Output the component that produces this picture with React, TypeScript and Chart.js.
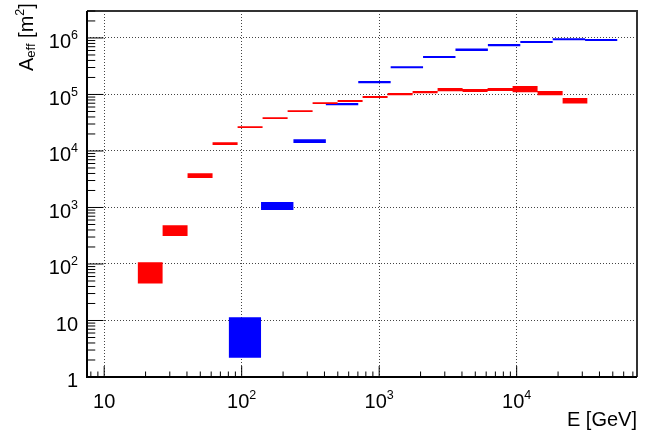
import React, { useEffect, useRef } from 'react';
import { Chart, registerables } from 'chart.js';

Chart.register(...registerables);

// ---- data ----
const RED_EDGES = [17.5, 26.6, 40.4, 61.4, 93.4, 141.9, 215.8, 327.9, 498.3, 757.5, 1151, 1750, 2660, 4043, 6144, 9338, 14190, 21580, 32790];
const RED_VALUES = [76, 398, 3680, 13500, 26400, 38100, 50800, 70300, 76800, 90300, 101600, 110000, 122000, 118000, 122800, 125000, 106000, 78000];
const RED_ERRORS = [31, 86, 350, 750, 900, 1300, 1700, 2400, 3200, 3700, 4800, 5200, 8000, 7000, 7500, 16000, 9300, 8500];

const BLUE_EDGES = [80.4, 138.3, 237.9, 409.4, 704.4, 1212, 2085, 3588, 6174, 10625, 18280, 31450, 54120];
const BLUE_VALUES = [6.8, 1076, 15000, 67600, 165600, 303000, 461000, 618000, 748000, 850000, 950000, 922000];
const BLUE_ERRORS = [4.6, 173, 1100, 3200, 7800, 12000, 18000, 30000, 35000, 35000, 38000, 38000];

const X_MIN = 7.5;
const X_MAX = 75000;
const Y_MIN = 1;
const Y_MAX = 3e6;

const X_TICK_VALUES = [10, 100, 1000, 10000];
const X_TICK_LABELS = ['10', '10^2', '10^3', '10^4'];
const Y_TICK_VALUES = [1, 10, 100, 1000, 10000, 100000, 1000000];
const Y_TICK_LABELS = ['1', '10', '10^2', '10^3', '10^4', '10^5', '10^6'];

const X_TITLE = 'E [GeV]';
const Y_TITLE = ['A', 'eff', ' [m', '2', ']'];

const FONT = '"Liberation Sans", Arial, Helvetica, sans-serif';

function band(edges: number[], values: number[], errors: number[], sign: number) {
  const pts = values.map((v, i) => ({ x: edges[i], y: v + sign * errors[i] }));
  const last = values.length - 1;
  pts.push({ x: edges[last + 1], y: values[last] + sign * errors[last] });
  return pts;
}

function logTicks(min: number, max: number) {
  const ticks: { value: number; major: boolean }[] = [];
  const e0 = Math.floor(Math.log10(min));
  const e1 = Math.ceil(Math.log10(max));
  for (let e = e0; e <= e1; e++) {
    for (let m = 1; m <= 9; m++) {
      const v = m * Math.pow(10, e);
      if (v >= min * 0.9999 && v <= max * 1.0001) ticks.push({ value: v, major: m === 1 });
    }
  }
  return ticks;
}

function drawLabel(ctx: CanvasRenderingContext2D, text: string, x: number, y: number, align: 'center' | 'right') {
  const [base, exp] = text.split('^');
  ctx.font = `20px ${FONT}`;
  const wb = ctx.measureText(base).width;
  let we = 0;
  if (exp) {
    ctx.font = `12.5px ${FONT}`;
    we = ctx.measureText(exp).width;
  }
  const total = wb + we;
  const x0 = align === 'center' ? x - total / 2 : x - total;
  ctx.textAlign = 'left';
  ctx.textBaseline = 'alphabetic';
  ctx.font = `20px ${FONT}`;
  ctx.fillText(base, x0, y);
  if (exp) {
    ctx.font = `12.5px ${FONT}`;
    ctx.fillText(exp, x0 + wb, y - 9);
  }
}

const rootAxesPlugin = {
  id: 'rootAxes',
  afterDraw(chart: any) {
    const { ctx, chartArea } = chart;
    const { left, right, top, bottom } = chartArea;
    const xs = chart.scales.x;
    const ys = chart.scales.y;
    ctx.save();
    // frame
    ctx.strokeStyle = '#333';
    ctx.lineWidth = 2;
    ctx.beginPath();
    ctx.moveTo(left, top);
    ctx.lineTo(right, top);
    ctx.lineTo(right, bottom);
    ctx.stroke();
    ctx.strokeStyle = '#000';
    ctx.beginPath();
    ctx.moveTo(left, top);
    ctx.lineTo(left, bottom);
    ctx.lineTo(right, bottom);
    ctx.stroke();
    // ticks
    ctx.lineWidth = 1;
    ctx.strokeStyle = '#000';
    const xTickLen = (bottom - top) * 0.03;
    const yTickLen = (right - left) * 0.03;
    ctx.beginPath();
    for (const t of xs.ticks) {
      const px = xs.getPixelForValue(t.value);
      const len = t.major ? xTickLen : xTickLen / 2;
      ctx.moveTo(px, bottom);
      ctx.lineTo(px, bottom - len);
    }
    for (const t of ys.ticks) {
      const py = ys.getPixelForValue(t.value);
      const len = t.major ? yTickLen : yTickLen / 2;
      ctx.moveTo(left, py);
      ctx.lineTo(left + len, py);
    }
    ctx.stroke();
    // labels
    ctx.fillStyle = '#000';
    X_TICK_VALUES.forEach((v, i) => {
      drawLabel(ctx, X_TICK_LABELS[i], xs.getPixelForValue(v), bottom + 30.5, 'center');
    });
    Y_TICK_VALUES.forEach((v, i) => {
      drawLabel(ctx, Y_TICK_LABELS[i], left - 9, ys.getPixelForValue(v) + 10.3, 'right');
    });
    // x title
    ctx.font = `20px ${FONT}`;
    ctx.textAlign = 'right';
    ctx.textBaseline = 'alphabetic';
    ctx.fillText(X_TITLE, right, bottom + 49);
    // y title (rotated)
    ctx.translate(33, 71);
    ctx.rotate(-Math.PI / 2);
    ctx.textAlign = 'left';
    let x = 0;
    const parts: [string, number, number][] = [
      [Y_TITLE[0], 20, 0],
      [Y_TITLE[1], 13, 2],
      [Y_TITLE[2], 20, 0],
      [Y_TITLE[3], 12.5, -9],
      [Y_TITLE[4], 20, 0],
    ];
    for (const [s, size, dy] of parts) {
      ctx.font = `${size}px ${FONT}`;
      ctx.fillText(s, x, dy);
      x += ctx.measureText(s).width;
    }
    ctx.restore();
  },
};

export default function App() {
  const ref = useRef<HTMLCanvasElement | null>(null);
  useEffect(() => {
    if (!ref.current) return;
    const gridColor = (c: any) => (c.tick && c.tick.major ? '#444' : 'rgba(0,0,0,0)');
    const common = {
      stepped: true,
      pointRadius: 0,
      borderWidth: 0,
      borderColor: 'rgba(0,0,0,0)',
    };
    const chart = new Chart(ref.current, {
      type: 'line',
      data: {
        datasets: [
          { ...common, label: 'red-lo', data: band(RED_EDGES, RED_VALUES, RED_ERRORS, -1), fill: false },
          { ...common, label: 'red-hi', data: band(RED_EDGES, RED_VALUES, RED_ERRORS, 1), fill: '-1', backgroundColor: '#ff0000' },
          { ...common, label: 'blue-lo', data: band(BLUE_EDGES, BLUE_VALUES, BLUE_ERRORS, -1), fill: false },
          { ...common, label: 'blue-hi', data: band(BLUE_EDGES, BLUE_VALUES, BLUE_ERRORS, 1), fill: '-1', backgroundColor: '#0000ff' },
        ],
      } as any,
      options: {
        animation: false,
        responsive: false,
        events: [],
        layout: { padding: { left: 87, right: 19, top: 11, bottom: 55 } },
        plugins: { legend: { display: false }, tooltip: { enabled: false }, filler: { propagate: false } },
        scales: {
          x: {
            type: 'logarithmic',
            min: X_MIN,
            max: X_MAX,
            afterBuildTicks: (s: any) => { s.ticks = logTicks(s.min, s.max); },
            ticks: { display: false },
            grid: { color: gridColor, lineWidth: 1, drawTicks: false },
            border: { display: false, dash: [1, 2] },
          },
          y: {
            type: 'logarithmic',
            min: Y_MIN,
            max: Y_MAX,
            afterBuildTicks: (s: any) => { s.ticks = logTicks(s.min, s.max); },
            ticks: { display: false },
            grid: { color: gridColor, lineWidth: 1, drawTicks: false },
            border: { display: false, dash: [1, 2] },
          },
        },
      } as any,
      plugins: [rootAxesPlugin],
    });
    return () => chart.destroy();
  }, []);
  return (
    <div style={{ position: 'fixed', left: 0, top: 0, width: 656, height: 432, background: '#fff' }}>
      <canvas ref={ref} width={656} height={432} style={{ display: 'block' }} />
    </div>
  );
}
